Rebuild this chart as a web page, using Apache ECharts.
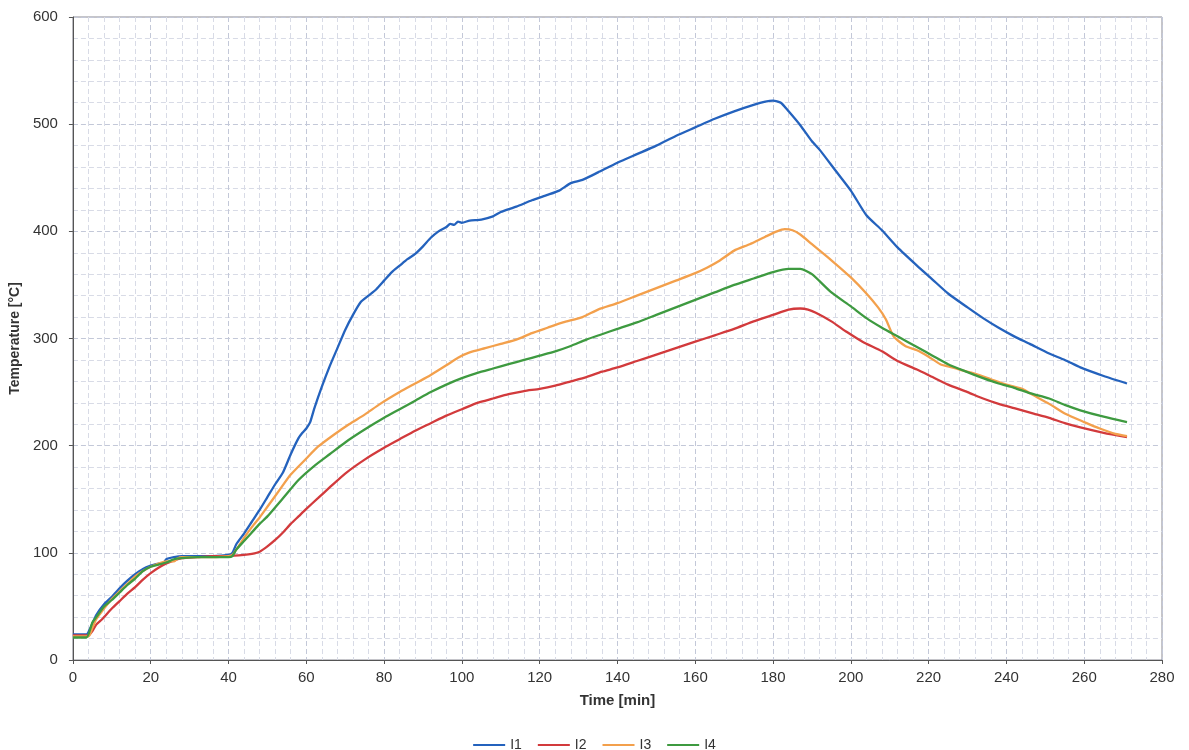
<!DOCTYPE html>
<html>
<head>
    <meta charset="utf-8">
    <title>Temperature</title>
    <script src="https://cdn.jsdelivr.net/npm/echarts@6/dist/echarts.min.js"></script>
</head>
<body style="margin:0;background:#fff;">
<div id="chart" style="width:1189px;height:750px;"></div>
<script type="text/javascript">
    // measured curves, [time min, temperature °C]
    var i1 = [[0,24],[3.5,24],[4.5,30],[6,42],[8,52],[10,59],[12,67],[14,74],[16,80],[18,85],[20,88],[22,90],[23,89],[24,94],[26,96],[28,97],[32,97],[36,97],[40,98],[41,100],[42,108],[44,118],[46,129],[48,140],[50,152],[52,164],[54,175],[56,192],[58,207],[59,212],[60,216],[61,222],[62,234],[64,255],[66,274],[68,291],[70,308],[72,322],[74,334],[76,340],[78,346],[80,354],[82,362],[84,368],[86,374],[88,379],[90,386],[92,394],[94,400],[96,404],[97,407],[98,406],[99,409],[100,408],[102,410],[105,411],[108,414],[110,418],[114,423],[118,429],[122,434],[125,438],[128,445],[131,448],[135,455],[140,464],[145,472],[150,480],[155,489],[160,497],[165,505],[170,512],[175,518],[178,521],[180,522],[182,520],[184,512],[187,499],[190,484],[192,476],[196,457],[200,438],[204,415],[208,401],[212,385],[217,368],[221,355],[225,342],[230,329],[234,319],[238,310],[242,302],[246,295],[251,286],[255,280],[259,273],[265,265],[271,258]];
    var i2 = [[0,23],[4,23],[5,27],[6,33],[7.5,38],[10,48],[12,55],[14,62],[16,68],[18,75],[20,81],[22,86],[24,90],[26,93],[28,95],[32,96],[36,97],[40,97],[44,98],[46,99],[48,101],[50,106],[52,112],[54,119],[56,127],[58,134],[60,141],[63,151],[66,161],[70,174],[75,187],[80,198],[84,206],[88,214],[92,221],[96,228],[100,234],[104,240],[108,244],[112,248],[116,251],[120,253],[124,256],[128,260],[132,264],[136,269],[140,273],[145,279],[150,285],[155,291],[160,297],[165,303],[170,309],[175,316],[180,322],[184,327],[187,328],[189,327],[191,324],[195,316],[199,306],[203,297],[208,288],[212,279],[217,271],[221,264],[225,257],[230,250],[234,244],[238,239],[242,235],[247,230],[251,226],[255,221],[259,217],[265,212],[271,208]];
    var i3 = [[0,22],[4,22],[5,30],[6,38],[8,48],[10,57],[12,64],[14,71],[16,78],[18,83],[20,87],[22,90],[24,92],[26,92],[27,95],[28,96],[32,96],[36,96],[40,97],[41,98],[42,103],[44,114],[46,124],[48,133],[50,143],[53,158],[56,173],[60,188],[63,199],[67,210],[71,220],[75,229],[79,239],[84,250],[88,258],[92,266],[96,275],[99,282],[102,287],[106,291],[110,295],[114,299],[118,305],[122,310],[126,315],[131,320],[135,327],[140,333],[145,340],[150,347],[155,354],[160,361],[163,366],[166,372],[170,382],[174,388],[178,395],[181,400],[183,402],[185,401],[187,397],[190,388],[195,373],[200,357],[204,342],[207,329],[209,318],[211,302],[214,293],[217,289],[220,283],[223,276],[226,273],[228,271],[232,267],[236,262],[240,257],[244,253],[247,247],[251,239],[255,230],[260,222],[264,216],[268,211],[271,209]];
    var i4 = [[0,21],[3.5,21],[5,35],[6,40],[8,50],[10,56],[12,63],[14,70],[16,76],[18,83],[20,87],[22,89],[24,91],[26,94],[28,95],[32,96],[36,96],[40,96],[41,97],[42,103],[44,111],[46,119],[48,127],[50,134],[54,151],[58,168],[62,181],[66,192],[70,203],[75,215],[80,226],[84,234],[88,242],[92,250],[96,257],[100,263],[104,268],[108,272],[112,276],[116,280],[120,284],[124,288],[128,293],[132,299],[136,304],[140,309],[145,315],[150,322],[155,329],[160,336],[165,343],[170,350],[175,356],[180,362],[184,365],[187,365],[190,360],[195,343],[200,330],[204,319],[208,310],[212,302],[217,292],[221,284],[225,276],[229,270],[234,263],[238,258],[242,254],[246,249],[251,244],[255,238],[259,233],[265,227],[271,222]];
    var names = ['I1', 'I2', 'I3', 'I4'];
    var colors = ['#2462bd', '#d23a3c', '#f3a04c', '#3e9a40'];

    var dom = document.getElementById("chart");
    var myChart = echarts.init(dom);
    var font = 'Liberation Sans, Arial, sans-serif';
    var gridLine = { show: true, lineStyle: { color: '#c3c8d8', type: [5, 3], width: 1 } };
    var minorLine = { show: true, lineStyle: { color: '#d8dbe6', type: [5, 3], width: 1 } };

    option = {
        animation: false,
        textStyle: { fontFamily: font },
        grid: { left: 72, right: 27, top: 17, bottom: 90, show: true, borderColor: '#8a8a94', borderWidth: 1 },
        legend: {
            top: 733,
            left: 'center',
            data: names,
            icon: 'rect',
            itemWidth: 32,
            itemHeight: 2,
            itemGap: 16,
            textStyle: { fontSize: 14, color: '#333', fontFamily: font }
        },
        xAxis: {
            type: 'value',
            min: 0,
            max: 280,
            interval: 20,
            name: 'Time [min]',
            nameLocation: 'middle',
            nameGap: 33,
            nameTextStyle: { fontSize: 15, fontWeight: 'bold', color: '#333' },
            axisLine: { lineStyle: { color: '#555' } },
            axisTick: { show: true, length: 4, lineStyle: { color: '#555' } },
            axisLabel: { fontSize: 15, color: '#333', margin: 10 },
            minorTick: { show: false, splitNumber: 5 },
            splitLine: gridLine,
            minorSplitLine: minorLine
        },
        yAxis: {
            type: 'value',
            min: 0,
            max: 600,
            interval: 100,
            name: 'Temperature [°C]',
            nameLocation: 'middle',
            nameGap: 47,
            nameTextStyle: { fontSize: 14, fontWeight: 'bold', color: '#333' },
            axisLine: { show: true, lineStyle: { color: '#555' } },
            axisTick: { show: true, length: 4, lineStyle: { color: '#555' } },
            axisLabel: { fontSize: 15, color: '#333', margin: 15 },
            minorTick: { show: false, splitNumber: 5 },
            splitLine: gridLine,
            minorSplitLine: minorLine
        },
        series: [i1, i2, i3, i4].map(function (d, k) {
            return {
                name: names[k],
                type: 'line',
                data: d,
                showSymbol: false,
                smooth: 0.2,
                color: colors[k],
                lineStyle: { width: 2.3, color: colors[k] }
            };
        })
    };
    if (option && typeof option === "object") {
        myChart.setOption(option);
    }
</script>
</body>
</html>
